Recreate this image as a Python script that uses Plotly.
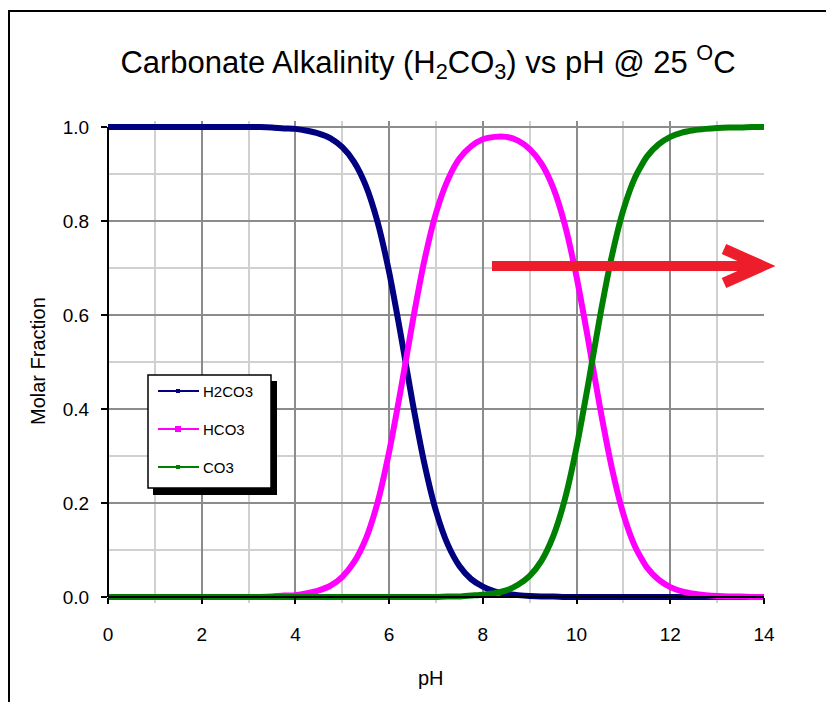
import plotly.graph_objects as go

# ---------------- data ----------------
ph = [0.0, 0.25, 0.5, 0.75, 1.0, 1.25, 1.5, 1.75, 2.0, 2.25, 2.5, 2.75,
      3.0, 3.25, 3.5, 3.75, 4.0, 4.25, 4.5, 4.75, 5.0, 5.25, 5.5, 5.75,
      6.0, 6.25, 6.5, 6.75, 7.0, 7.25, 7.5, 7.75, 8.0, 8.25, 8.5, 8.75,
      9.0, 9.25, 9.5, 9.75, 10.0, 10.25, 10.5, 10.75, 11.0, 11.25, 11.5, 11.75,
      12.0, 12.25, 12.5, 12.75, 13.0, 13.25, 13.5, 13.75, 14.0]

h2co3 = [1.0, 1.0, 1.0, 1.0, 1.0, 1.0, 1.0, 1.0, 1.0, 1.0, 1.0, 1.0,
         1.0, 1.0, 0.999, 0.997, 0.996, 0.992, 0.986, 0.976, 0.957, 0.926, 0.876, 0.799,
         0.691, 0.557, 0.414, 0.285, 0.183, 0.112, 0.066, 0.038, 0.022, 0.012, 0.007, 0.004,
         0.002, 0.001, 0.001, 0.0, 0.0, 0.0, 0.0, 0.0, 0.0, 0.0, 0.0, 0.0,
         0.0, 0.0, 0.0, 0.0, 0.0, 0.0, 0.0, 0.0, 0.0]

hco3 = [0.0, 0.0, 0.0, 0.0, 0.0, 0.0, 0.0, 0.0, 0.0, 0.0, 0.0, 0.0,
        0.0, 0.0, 0.001, 0.003, 0.004, 0.008, 0.014, 0.024, 0.043, 0.074, 0.123, 0.200,
        0.309, 0.442, 0.585, 0.715, 0.817, 0.887, 0.933, 0.959, 0.974, 0.979, 0.979, 0.971,
        0.953, 0.922, 0.871, 0.792, 0.681, 0.546, 0.403, 0.276, 0.176, 0.107, 0.063, 0.037,
        0.021, 0.012, 0.007, 0.004, 0.002, 0.001, 0.001, 0.0, 0.0]

co3 = [0.0, 0.0, 0.0, 0.0, 0.0, 0.0, 0.0, 0.0, 0.0, 0.0, 0.0, 0.0,
       0.0, 0.0, 0.0, 0.0, 0.0, 0.0, 0.0, 0.0, 0.0, 0.0, 0.0, 0.0,
       0.0, 0.0, 0.0, 0.0, 0.0, 0.001, 0.001, 0.003, 0.005, 0.008, 0.014, 0.026,
       0.045, 0.077, 0.129, 0.208, 0.319, 0.454, 0.597, 0.724, 0.824, 0.893, 0.937, 0.963,
       0.979, 0.988, 0.993, 0.996, 0.998, 0.999, 0.999, 1.0, 1.0]

series_names = ["H2CO3", "HCO3", "CO3"]
series_colors = ["#000080", "#FF00FF", "#008000"]
x_ticks = [0, 2, 4, 6, 8, 10, 12, 14]
y_ticks = [0.0, 0.2, 0.4, 0.6, 0.8, 1.0]

# ---------------- layout geometry ----------------
OFF = 8                  # page body margin in the browser
W, H = 834 - OFF, 702 - OFF
L, R = 108 - OFF, 764 - OFF     # pixel x of pH 0 and pH 14 (figure coords)
T, B = 121 - OFF, 603 - OFF     # plot area top / bottom (figure coords)
PAD = 6 / 470.0                 # small data padding so edge lines are not clipped
ymin, ymax = -PAD, 1 + PAD


def px(x):
    """reference-page pixel x -> paper fraction"""
    return (x - OFF - L) / (R - L)


def py(y):
    """reference-page pixel y -> paper fraction"""
    return (B - (y - OFF)) / (B - T)


FONT = "Liberation Sans, Arial, sans-serif"

fig = go.Figure()
for name, vals, col in zip(series_names, [h2co3, hco3, co3], series_colors):
    fig.add_trace(go.Scatter(
        x=ph, y=vals, name=name, mode="lines",
        line=dict(color=col, width=6, shape="spline", smoothing=0.6),
        showlegend=False, hoverinfo="x+y+name",
    ))

shapes = []
# outer chart frame
shapes.append(dict(type="rect", xref="paper", yref="paper",
                   x0=px(9), x1=px(860), y0=py(730), y1=py(11),
                   line=dict(color="black", width=2), fillcolor="rgba(0,0,0,0)",
                   layer="below"))
# legend shadow + box
shapes.append(dict(type="rect", xref="paper", yref="paper",
                   x0=px(153), x1=px(277), y0=py(495), y1=py(381),
                   line=dict(width=0), fillcolor="black"))
shapes.append(dict(type="rect", xref="paper", yref="paper",
                   x0=px(148), x1=px(271), y0=py(488), y1=py(375),
                   line=dict(color="black", width=1.5), fillcolor="white"))
legend_y = [391, 429, 467]
marker_sizes = [2, 3, 2]
annotations = []
for name, col, ly, ms in zip(series_names, series_colors, legend_y, marker_sizes):
    shapes.append(dict(type="line", xref="paper", yref="paper",
                       x0=px(158), x1=px(199), y0=py(ly), y1=py(ly),
                       line=dict(color=col, width=2)))
    shapes.append(dict(type="rect", xref="paper", yref="paper",
                       x0=px(178 - ms), x1=px(178 + ms), y0=py(ly + ms), y1=py(ly - ms),
                       line=dict(width=0), fillcolor=col))
    annotations.append(dict(text=name, xref="paper", yref="paper",
                            x=px(201), y=py(ly), xanchor="left", yanchor="middle",
                            showarrow=False,
                            font=dict(family=FONT, size=15, color="black")))

# red arrow
RED = "#EE1D2B"
shapes.append(dict(type="line", xref="paper", yref="paper",
                   x0=px(492), x1=px(760), y0=py(266), y1=py(266),
                   line=dict(color=RED, width=10)))
shapes.append(dict(type="path", xref="paper", yref="paper",
                   path=f"M {px(724)} {py(249)} L {px(762)} {py(266)} L {px(724)} {py(283)}",
                   line=dict(color=RED, width=11), fillcolor="rgba(0,0,0,0)"))

# axis titles
annotations.append(dict(text="Molar Fraction", xref="paper", yref="paper",
                        x=px(38), y=py(361), textangle=-90, showarrow=False,
                        xanchor="center", yanchor="middle",
                        font=dict(family=FONT, size=20, color="black")))
annotations.append(dict(text="pH", xref="paper", yref="paper",
                        x=px(431), y=py(678), showarrow=False,
                        xanchor="center", yanchor="middle",
                        font=dict(family=FONT, size=20, color="black")))

fig.update_layout(
    width=W, height=H,
    margin=dict(l=L, r=W - R, t=T, b=H - B, pad=0),
    paper_bgcolor="white", plot_bgcolor="white",
    showlegend=False,
    title=dict(text="Carbonate Alkalinity (H<sub>2</sub>CO<sub>3</sub>) vs pH @ 25 <sup>O</sup>C",
               x=(428 - OFF) / W, y=1 - (62 - OFF) / H, xref="container", yref="container",
               xanchor="center", yanchor="middle",
               font=dict(family=FONT, size=31, color="black")),
    shapes=shapes, annotations=annotations,
)

fig.update_xaxes(
    range=[0, 14], tickvals=x_ticks, ticktext=[str(v) for v in x_ticks],
    showgrid=True, gridcolor="#8c8c8c", gridwidth=2,
    minor=dict(dtick=1, showgrid=True, gridcolor="#d0d0d0", gridwidth=2, ticks=""),
    showline=True, linecolor="black", linewidth=2,
    ticks="outside", ticklen=6, tickwidth=2, tickcolor="black",
    tickfont=dict(family=FONT, size=19, color="black"),
    anchor="free", position=py(597), zeroline=False, ticklabelstandoff=14,
)
fig.update_yaxes(
    range=[ymin, ymax], tickvals=y_ticks, ticktext=[f"{v:.1f}" for v in y_ticks],
    showgrid=True, gridcolor="#8c8c8c", gridwidth=2,
    minor=dict(tickvals=[0.1, 0.3, 0.5, 0.7, 0.9], showgrid=True, gridcolor="#d0d0d0", gridwidth=2, ticks=""),
    showline=False, zeroline=False,
    ticks="outside", ticklen=6, tickwidth=2, tickcolor="black",
    tickfont=dict(family=FONT, size=19, color="black"),
    ticklabelstandoff=8,
)
# left axis line spanning only the data range 0..1
fig.add_shape(type="line", xref="paper", yref="y", x0=0, x1=0, y0=0, y1=1,
              line=dict(color="black", width=2), layer="above")

fig.write_html("out.html")
